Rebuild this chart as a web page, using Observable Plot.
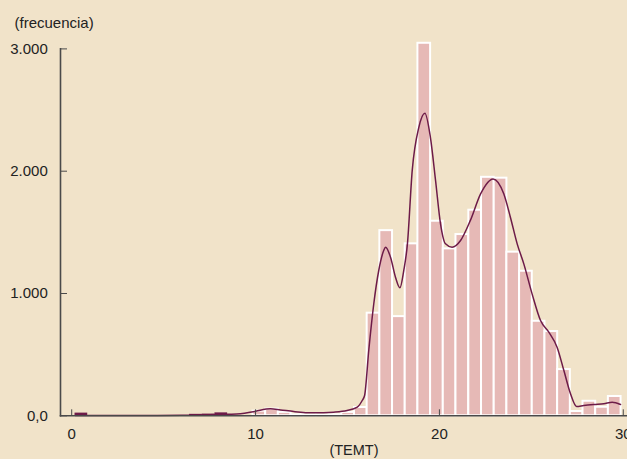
<!DOCTYPE html>
<html><head><meta charset="utf-8">
<script src="https://cdn.jsdelivr.net/npm/d3@7"></script>
<script src="https://cdn.jsdelivr.net/npm/@observablehq/plot@0.6"></script>
<style>html,body{margin:0;padding:0;background:#f1e3c9;overflow:hidden;}</style>
</head><body><div id="chart"></div>
<script>
// Histogram bins (lower edges) and counts
const binStarts = [9.86, 10.55, 11.24, 11.93, 12.62, 13.31, 14.00, 14.69, 15.38, 16.07, 16.76, 17.45, 18.14, 18.83, 19.52, 20.21, 20.90, 21.60, 22.29, 22.98, 23.67, 24.36, 25.05, 25.74, 26.43, 27.12, 27.81, 28.50, 29.19];
const binCounts = [38, 55, 28, 8, 6, 6, 8, 28, 68, 839, 1514, 811, 1406, 3046, 1591, 1365, 1482, 1681, 1950, 1943, 1338, 1182, 773, 689, 378, 35, 119, 70, 158];
// Very small bins, drawn dark
const tinyStarts = [0.18, 6.41, 7.10, 7.79];
const tinyCounts = [22, 12, 14, 24];
const binWidth = 0.6907;
// Density curve
const curveX = [0.2, 2, 4, 6, 7.5, 8.5, 9.18, 10.0, 10.81, 11.36, 12.08, 13.15, 14.24, 14.98, 15.53, 15.8, 15.93, 16.16, 16.43, 16.7, 16.97, 17.07, 17.34, 17.61, 17.85, 18.06, 18.26, 18.52, 18.88, 19.21, 19.51, 19.79, 20.06, 20.33, 20.69, 21.15, 21.69, 22.24, 22.92, 23.5, 23.86, 24.23, 24.59, 25.04, 25.5, 25.95, 26.4, 26.77, 27.13, 27.46, 27.85, 28.4, 28.94, 29.4, 29.85];
const curveY = [3, 2, 2, 4, 8, 12, 16, 38, 57, 48, 35, 24, 30, 43, 70, 125, 166, 540, 916, 1188, 1351, 1378, 1297, 1133, 1046, 1188, 1406, 2005, 2359, 2474, 2277, 1924, 1570, 1406, 1378, 1433, 1600, 1815, 1937, 1815, 1624, 1406, 1242, 997, 779, 684, 561, 370, 180, 76, 84, 92, 98, 111, 92];
const xTicks = [0, 10, 20, 30];
const yTicks = [0, 1000, 2000, 3000];
const yTickLabels = ["0,0", "1.000", "2.000", "3.000"];

const bins = binStarts.map((x, i) => ({x1: x, x2: x + binWidth, y: binCounts[i]}));
const tiny = tinyStarts.map((x, i) => ({x1: x, x2: x + binWidth, y: tinyCounts[i]}));
const curve = curveX.map((x, i) => ({x, y: curveY[i]}));
const axisColor = "#4a4a4a";
const lineColor = "#6d1b48";
const fs = 15;

const chart = Plot.plot({
  width: 627, height: 459,
  marginLeft: 60, marginRight: 0, marginTop: 48.4, marginBottom: 43.7,
  style: {background: "#f1e3c9", fontFamily: "'Liberation Sans', Arial, sans-serif", fontSize: "15px", color: "#222"},
  x: {domain: [-0.61, 30.23]},
  y: {domain: [0, 3000]},
  marks: [
    Plot.rectY(bins, {x1: "x1", x2: "x2", y: "y", fill: "#e6b9b6", stroke: "white", strokeWidth: 2}),
    Plot.rectY(tiny, {x1: "x1", x2: "x2", y: "y", fill: lineColor}),
    Plot.line(curve, {x: "x", y: "y", stroke: lineColor, strokeWidth: 1.5, curve: "monotone-x"}),
    Plot.axisX({ticks: xTicks, tickSize: -6, tickPadding: 19, tickFormat: d => String(d), label: null, stroke: axisColor, fill: "#222", fontSize: fs}),
    Plot.axisY({ticks: yTicks, tickSize: -7, tickPadding: 19.7, tickFormat: d => yTickLabels[yTicks.indexOf(d)], label: null, stroke: axisColor, fill: "#222", fontSize: fs}),
    Plot.frame({anchor: "left", stroke: axisColor, strokeWidth: 1.6}),
    Plot.frame({anchor: "bottom", stroke: axisColor, strokeWidth: 1.6}),
    Plot.text(["(TEMT)"], {frameAnchor: "bottom", dx: 10, dy: 39.5, fill: "#222", fontSize: 14.5}),
    Plot.text(["(frecuencia)"], {frameAnchor: "top-left", textAnchor: "start", dx: -46, dy: -32, fill: "#222", fontSize: fs})
  ]
});
document.getElementById("chart").appendChild(chart);
</script>
</body></html>
